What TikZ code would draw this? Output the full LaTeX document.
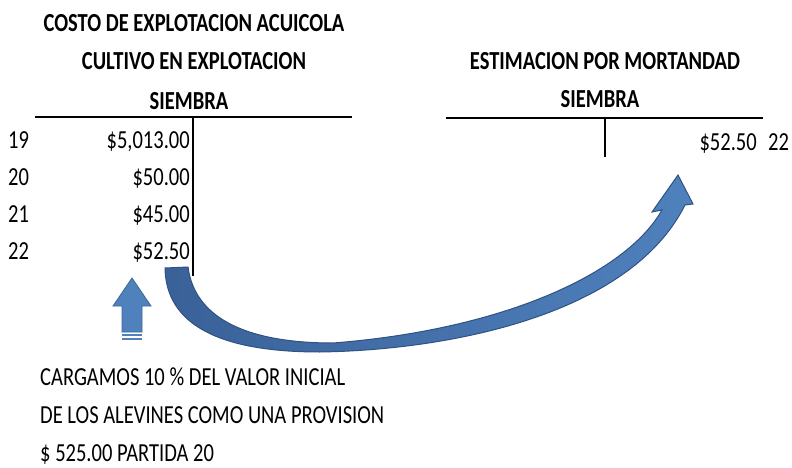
\documentclass[tikz,border=0pt]{standalone}
\usepackage{fontspec}
\setmainfont{Carlito}[FakeStretch=0.79]
\usepackage{xcolor}
\usepackage{tikz}
\usetikzlibrary{positioning}
\definecolor{arrowblue}{HTML}{4F81BD}
\definecolor{arrowdark}{HTML}{3A6198}
\definecolor{arrowedge}{HTML}{2F5283}

\begin{document}
\begin{tikzpicture}[x=1pt, y=-1pt]
% Define styles
\tikzstyle{txt} = [inner sep=0pt, font=\fontsize{26}{31}\selectfont]
\tikzstyle{head} = [txt, anchor=base, font=\fontsize{26}{31}\selectfont\bfseries]
\tikzstyle{tline} = [line width=2pt]
\useasboundingbox (0,0) rectangle (792,468);

% Left account
\node[head] (cost_title) at (194,32) {COSTO DE EXPLOTACION ACUICOLA};
\node[head] (cult_title) at (194,70) {CULTIVO EN EXPLOTACION};
\node[head] (siem_left) at (189,110) {SIEMBRA};
\coordinate (left_a) at (35,117);
\coordinate (left_b) at (352,117);
\coordinate (left_top) at (193,117);
\coordinate (left_bot) at (193,276);
\draw[tline] (left_a) -- (left_b);
\draw[tline] (left_top) -- (left_bot);
\node[txt, anchor=base west] (n19) at (8,148) {19};
\node[txt, anchor=base west] (n20) at (8,185) {20};
\node[txt, anchor=base west] (n21) at (8,222) {21};
\node[txt, anchor=base west] (n22) at (8,259) {22};
\node[txt, anchor=base east] (v19) at (190,148) {\$5,013.00};
\node[txt, anchor=base east] (v20) at (190,185) {\$50.00};
\node[txt, anchor=base east] (v21) at (190,222) {\$45.00};
\node[txt, anchor=base east] (v22) at (190,259) {\$52.50};

% Right account
\node[head] (est_title) at (605,70) {ESTIMACION POR MORTANDAD};
\node[head] (siem_right) at (600,108) {SIEMBRA};
\coordinate (right_a) at (446,118);
\coordinate (right_b) at (763,118);
\coordinate (right_top) at (605,118);
\coordinate (right_bot) at (605,157);
\draw[tline] (right_a) -- (right_b);
\draw[tline] (right_top) -- (right_bot);
\node[txt, anchor=base east] (r22v) at (757,150) {\$52.50};
\node[txt, anchor=base west] (r22) at (768,150) {22};

% Block arrows
\filldraw[fill=arrowblue, draw=arrowblue!80!black, line width=0.8pt]
  (132,278) -- (151,306) -- (142,306) -- (142,332) -- (122,332) -- (122,306)
  -- (113,306) -- cycle;
\fill[arrowblue] (122,334) rectangle (142,336);
\fill[arrowblue] (122,337.5) rectangle (142,340);
\draw[left color=arrowdark, right color=arrowblue, draw=arrowedge, line width=1pt]
  (165,268) .. controls (166,325) and (220,352) .. (320,352)
  .. controls (450,350) and (630,315) .. (685,205)
  -- (693,204) -- (678,175) -- (652,212) -- (662,210)
  .. controls (625,275) and (500,330) .. (333,343)
  .. controls (250,343) and (195,320) .. (188,267) -- cycle;

% Note
\node[txt, anchor=base west] (note1) at (40,385) {CARGAMOS 10 \% DEL VALOR INICIAL};
\node[txt, anchor=base west] (note2) at (40,423) {DE LOS ALEVINES COMO UNA PROVISION};
\node[txt, anchor=base west] (note3) at (40,461) {\$ 525.00 PARTIDA 20};

\end{tikzpicture}
\end{document}
